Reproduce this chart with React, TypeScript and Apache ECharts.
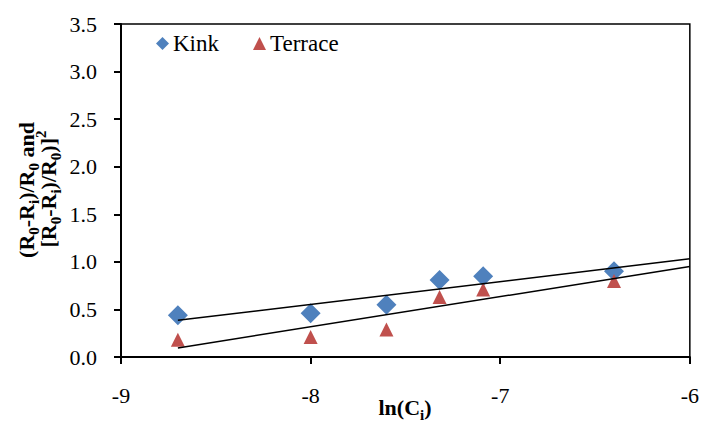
import React, { useEffect, useRef } from "react";
import * as echarts from "echarts";

const xValues = [-8.7, -8.0, -7.6, -7.32, -7.09, -6.4];
const kinkValues = [0.44, 0.46, 0.55, 0.81, 0.85, 0.9];
const terraceValues = [0.18, 0.21, 0.29, 0.63, 0.71, 0.8];
const seriesNames = ["Kink", "Terrace"];
const X_MIN = -9;
const X_MAX = -6;
const Y_MIN = 0;
const Y_MAX = 3.5;

const FONT = "Liberation Serif";

function fit(xs: number[], ys: number[]) {
  const n = xs.length;
  const mx = xs.reduce((a, b) => a + b, 0) / n;
  const my = ys.reduce((a, b) => a + b, 0) / n;
  let sxy = 0;
  let sxx = 0;
  for (let i = 0; i < n; i++) {
    sxy += (xs[i] - mx) * (ys[i] - my);
    sxx += (xs[i] - mx) * (xs[i] - mx);
  }
  const b = sxy / sxx;
  const a = my - b * mx;
  const x0 = Math.min(...xs);
  return [
    [x0, a + b * x0],
    [X_MAX, a + b * X_MAX],
  ];
}

const rich = {
  n: { fontSize: 22, fontWeight: "bold", fontFamily: FONT, color: "#000", lineHeight: 30, verticalAlign: "middle" },
  sub: { fontSize: 15, fontWeight: "bold", fontFamily: FONT, color: "#000", lineHeight: 15, verticalAlign: "bottom" },
  sup: { fontSize: 15, fontWeight: "bold", fontFamily: FONT, color: "#000", lineHeight: 15, verticalAlign: "top" },
};

export default function App() {
  const ref = useRef<HTMLDivElement>(null);
  useEffect(() => {
    if (!ref.current) return;
    const chart = echarts.init(ref.current, null, { renderer: "svg" });
    const kinkData = xValues.map((x, i) => [x, kinkValues[i]]);
    const terraceData = xValues.map((x, i) => [x, terraceValues[i]]);
    chart.setOption({
      animation: false,
      textStyle: { fontFamily: FONT, color: "#000" },
      grid: {
        left: 121,
        right: 12,
        top: 24,
        bottom: 64,
        show: true,
        borderColor: "#000",
        borderWidth: 1.5,
        backgroundColor: "transparent",
      },
      legend: {
        left: 151,
        top: 27,
        itemWidth: 13,
        itemHeight: 13,
        itemGap: 34,
        textStyle: { fontFamily: FONT, fontSize: 23, color: "#000", padding: [0, 0, 0, -1] },
        data: [
          { name: seriesNames[0], icon: "diamond", itemStyle: { color: "#4F81BD", opacity: 1 } },
          { name: seriesNames[1], icon: "triangle", itemStyle: { color: "#C0504D", opacity: 1 } },
        ],
      },
      xAxis: {
        type: "value",
        min: X_MIN,
        max: X_MAX,
        interval: 1,
        axisLine: { show: true, onZero: false, lineStyle: { color: "#000", width: 2 } },
        axisTick: { show: true, inside: false, length: 7, lineStyle: { color: "#000", width: 2 } },
        axisLabel: { fontFamily: FONT, fontSize: 22, color: "#000", margin: 27 },
        splitLine: { show: false },
      },
      yAxis: {
        type: "value",
        min: Y_MIN,
        max: Y_MAX,
        interval: 0.5,
        axisLine: { show: true, lineStyle: { color: "#000", width: 2 } },
        axisTick: { show: true, inside: false, length: 7, lineStyle: { color: "#000", width: 2 } },
        axisLabel: {
          fontFamily: FONT,
          fontSize: 22,
          color: "#000",
          margin: 24,
          formatter: (v: number) => v.toFixed(1),
        },
        splitLine: { show: false },
      },
      graphic: [
        {
          type: "text",
          x: 26,
          y: 190,
          rotation: Math.PI / 2,
          style: {
            text: "{n|(R}{sub|0}{n|-R}{sub|i}{n|)/R}{sub|0}{n| and}",
            rich,
            align: "center",
            verticalAlign: "middle",
          },
        },
        {
          type: "text",
          x: 48,
          y: 189,
          rotation: Math.PI / 2,
          style: {
            text: "{n|[R}{sub|0}{n|-R}{sub|i}{n|)/R}{sub|0}{n|)]}{sup|2}",
            rich,
            align: "center",
            verticalAlign: "middle",
          },
        },
        {
          type: "text",
          x: 405,
          y: 407,
          style: {
            text: "{n|ln(C}{sub|i}{n|)}",
            rich,
            align: "center",
            verticalAlign: "middle",
          },
        },
      ],
      series: [
        {
          name: seriesNames[0],
          type: "scatter",
          data: kinkData,
          symbol: "diamond",
          symbolSize: 20,
          itemStyle: { color: "#4F81BD", opacity: 1 },
          z: 3,
        },
        {
          name: seriesNames[1],
          type: "scatter",
          data: terraceData,
          symbol: "triangle",
          symbolSize: 14,
          itemStyle: { color: "#C0504D", opacity: 1 },
          z: 3,
        },
        {
          name: "kinkTrend",
          type: "line",
          data: fit(xValues, kinkValues),
          symbol: "none",
          lineStyle: { color: "#000", width: 1.5 },
          z: 4,
          silent: true,
        },
        {
          name: "terraceTrend",
          type: "line",
          data: fit(xValues, terraceValues),
          symbol: "none",
          lineStyle: { color: "#000", width: 1.5 },
          z: 4,
          silent: true,
        },
      ],
    });
    return () => chart.dispose();
  }, []);
  return <div ref={ref} style={{ width: 702, height: 421, position: "absolute", left: 0, top: 0 }} />;
}
